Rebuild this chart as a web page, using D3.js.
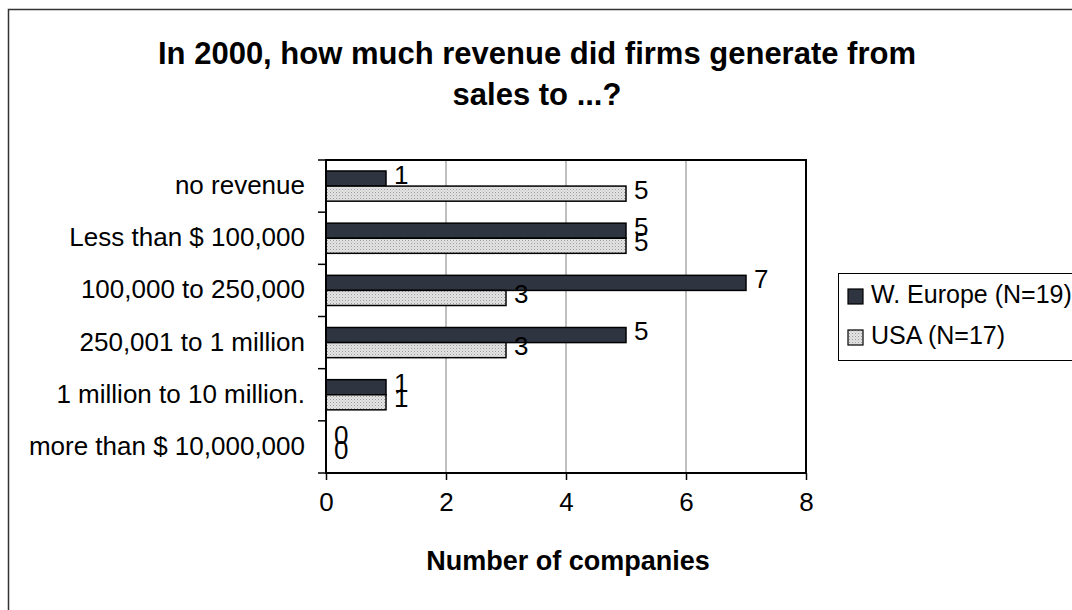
<!DOCTYPE html>
<html><head><meta charset="utf-8">
<script src="https://cdn.jsdelivr.net/npm/d3@7"></script>
<style>body{margin:0;background:#fff}svg{display:block;font-family:"Liberation Sans",Arial,sans-serif}</style>
</head><body><svg id="c" width="1072" height="610"></svg>
<script>
const categories = ["no revenue","Less than $ 100,000","100,000 to 250,000","250,001 to 1 million","1 million to 10 million.","more than $ 10,000,000"];
const series = ["W. Europe (N=19)","USA (N=17)"];
const europe = [1,5,7,5,1,0];
const usa = [5,5,3,3,1,0];
const xTicks = [0,2,4,6,8];
const titleLines = ["In 2000, how much revenue did firms generate from","sales to ...?"];
const xTitle = "Number of companies";

const svg = d3.select("#c");
const defs = svg.append("defs");
const pat = defs.append("pattern").attr("id","dots").attr("width",3).attr("height",3).attr("patternUnits","userSpaceOnUse");
pat.append("rect").attr("width",3).attr("height",3).attr("fill","#e4e4e4");
pat.append("rect").attr("x",0).attr("y",0).attr("width",1).attr("height",1).attr("fill","#9a9a9a");
pat.append("rect").attr("x",1.5).attr("y",1.5).attr("width",1).attr("height",1).attr("fill","#b8b8b8");
const fills = ["#2e3440","url(#dots)"];

// outer frame
svg.append("rect").attr("x",8.5).attr("y",9.5).attr("width",1200).attr("height",800).attr("fill","none").attr("stroke","#333").attr("stroke-width",1.5);

// title
svg.append("text").attr("x",537).attr("y",64).attr("text-anchor","middle").attr("font-weight","bold").attr("font-size",31).text(titleLines[0]);
svg.append("text").attr("x",537).attr("y",105).attr("text-anchor","middle").attr("font-weight","bold").attr("font-size",31).text(titleLines[1]);

const L=326,R=806,T=160,B=473;
const x = d3.scaleLinear().domain([0,8]).range([L,R]);
const y = d3.scaleBand().domain(categories).range([T,B]).padding(0);
const ys = d3.scaleBand().domain(series).range([11, y.bandwidth()-11]).padding(0);

// gridlines
svg.append("g").selectAll("line").data(xTicks.filter(d=>d>0&&d<8)).join("line")
  .attr("x1",d=>x(d)).attr("x2",d=>x(d)).attr("y1",T).attr("y2",B).attr("stroke","#808080").attr("stroke-width",1);

// bars
const data = series.map((s,i)=>({s, vals:(i===0?europe:usa)}));
data.forEach((ser,i)=>{
  svg.append("g").selectAll("rect").data(categories).join("rect")
    .attr("x",x(0)).attr("y",(c)=>y(c)+ys(ser.s))
    .attr("width",(c,j)=>x(ser.vals[j])-x(0)).attr("height",ys.bandwidth())
    .attr("fill",fills[i]).attr("stroke","#000").attr("stroke-width",1.5);
});
// value labels
data.forEach((ser,i)=>{
  svg.append("g").selectAll("text").data(categories).join("text")
    .attr("x",(c,j)=>x(ser.vals[j])+8)
    .attr("y",(c)=>y(c)+ys(ser.s)+ys.bandwidth()/2+5)
    .attr("font-size",26).text((c,j)=>ser.vals[j]);
});

// plot frame
svg.append("rect").attr("x",L).attr("y",T).attr("width",R-L).attr("height",B-T).attr("fill","none").attr("stroke","#000").attr("stroke-width",2);

// y axis
const gy = svg.append("g").attr("transform",`translate(${L},0)`);
gy.append("g").selectAll("line").data(d3.range(categories.length+1)).join("line")
  .attr("x1",-8).attr("x2",0).attr("y1",d=>T+d*y.step()).attr("y2",d=>T+d*y.step()).attr("stroke","#000").attr("stroke-width",1.5);
gy.append("g").selectAll("text").data(categories).join("text")
  .attr("x",-21).attr("y",c=>y(c)+y.bandwidth()/2+8).attr("text-anchor","end").attr("font-size",26).text(c=>c);

// x axis
const xAxis = d3.axisBottom(x).tickValues(xTicks).tickSize(7).tickPadding(13);
const gx = svg.append("g").attr("transform",`translate(0,${B})`).call(xAxis);
gx.select(".domain").remove();
gx.selectAll("line").attr("stroke","#000").attr("stroke-width",1.5);
gx.selectAll("text").attr("font-size",26).attr("font-family","Liberation Sans, Arial, sans-serif").attr("fill","#000");

svg.append("text").attr("x",568).attr("y",570).attr("text-anchor","middle").attr("font-weight","bold").attr("font-size",27).text(xTitle);

// legend
const lg = svg.append("g");
lg.append("rect").attr("x",838.5).attr("y",273.5).attr("width",300).attr("height",87).attr("fill","#fff").attr("stroke","#000").attr("stroke-width",1);
series.forEach((s,i)=>{
  const yy = 289 + i*41;
  lg.append("rect").attr("x",848).attr("y",yy).attr("width",15).attr("height",15).attr("fill",fills[i]).attr("stroke","#000").attr("stroke-width",1.2);
  lg.append("text").attr("x",871).attr("y",yy+14).attr("font-size",25).text(s);
});
</script></body></html>
